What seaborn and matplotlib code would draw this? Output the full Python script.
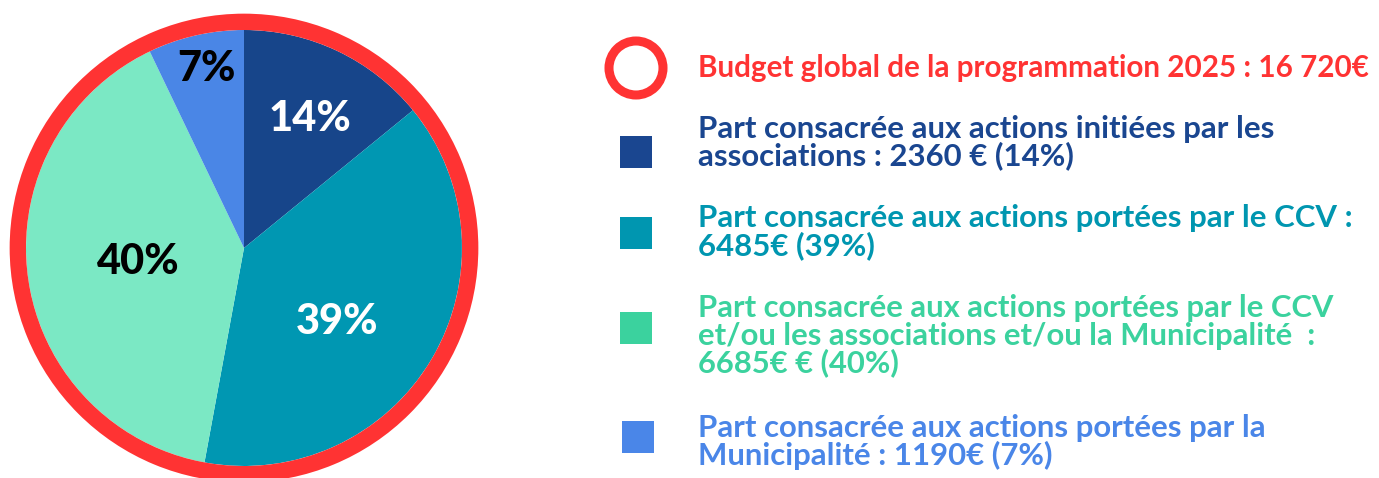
import matplotlib
matplotlib.use("Agg")
import matplotlib.pyplot as plt
import seaborn as sns
import numpy as np
from matplotlib.patches import Rectangle, Circle

# ---- data ----
categories = [
    "Part consacrée aux actions initiées par les\nassociations : 2360 € (14%)",
    "Part consacrée aux actions portées par le CCV :\n6485€ (39%)",
    "Part consacrée aux actions portées par le CCV\net/ou les associations et/ou la Municipalité  :\n6685€ € (40%)",
    "Part consacrée aux actions portées par la\nMunicipalité : 1190€ (7%)",
]
amounts = [2360, 6485, 6685, 1190]
total_label = "Budget global de la programmation 2025 : 16 720€"

# ---- style ----
pie_colors = ["#17458A", "#0097B2", "#7BE8C4", "#4A86E6"]
legend_colors = ["#1A4690", "#0096B0", "#3BD29E", "#4A86E8"]
pct_colors = ["white", "white", "black", "black"]
red = "#FF3333"

sns.set_theme(style="white")
plt.rcParams["font.family"] = ["Lato", "DejaVu Sans"]

W, H = 1379, 478
fig = plt.figure(figsize=(W / 100, H / 100), dpi=100)
fig.patch.set_facecolor("white")

# pie axes: centre (244, 248) px from top-left, radius 218 px
R = 218.0
cx, cy = 244.0, 248.0
half = 1.1 * R
ax = fig.add_axes([(cx - half) / W, (H - cy - half) / H, 2 * half / W, 2 * half / H])

wedges, texts, autotexts = ax.pie(
    amounts,
    colors=pie_colors,
    startangle=90,
    counterclock=False,
    radius=1.0,
    autopct=lambda p: f"{round(p)}%",
    pctdistance=0.6,
    wedgeprops=dict(linewidth=0),
    textprops=dict(fontsize=30, fontweight="black"),
)
# red outer ring
ax.pie([1], colors=[red], radius=1.075, startangle=90,
       wedgeprops=dict(width=0.075, linewidth=0))
ax.set_xlim(-1.1, 1.1)
ax.set_ylim(-1.1, 1.1)
ax.set_aspect("equal")
ax.axis("off")

label_r = [0.665, 0.545, 0.49, 0.84]
label_da = [-1.7, -7.8, 0.0, -1.1]
for w, t, c, r, da in zip(wedges, autotexts, pct_colors, label_r, label_da):
    ang = np.deg2rad((w.theta1 + w.theta2) / 2 + da)
    t.set_position((r * np.cos(ang), r * np.sin(ang)))
    t.set_color(c)
    t.set_ha("center")
    t.set_va("center")

# overlay for legend, in pixel coords
ov = fig.add_axes([0, 0, 1, 1])
ov.set_xlim(0, W)
ov.set_ylim(H, 0)
ov.axis("off")
ov.patch.set_alpha(0)

ov.add_patch(Circle((636, 68), 27, facecolor="none", edgecolor=red, linewidth=6.5))
t0 = ov.text(698, 68, total_label, color=red, fontsize=10, fontweight="bold",
             ha="left", va="center")

square_y = [152, 233, 328, 437]
square_x = [620, 620, 620, 622]
text_y = [142.5, 232, 336, 442]
target_w = [577, 654, 637, 567]
all_texts = [t0]
for lab, col, sq, sx, ty in zip(categories, legend_colors, square_y, square_x, text_y):
    ov.add_patch(Rectangle((sx, sq - 16), 32, 32, facecolor=col, edgecolor="none"))
    all_texts.append(ov.text(698, ty, lab, color=col, fontsize=10, fontweight="bold",
                             ha="left", va="center", linespacing=1.0))

# fit each legend text to the reference text width
renderer = fig.canvas.get_renderer()
pitch_px = 32.5
for t, tw in zip(all_texts, [672] + target_w):
    fs = 10 * tw / t.get_window_extent(renderer).width
    t.set_fontsize(fs)
    t.set_linespacing(pitch_px / (1.09 * fs * 100 / 72))

fig.savefig("out.png", dpi=100, facecolor="white")
